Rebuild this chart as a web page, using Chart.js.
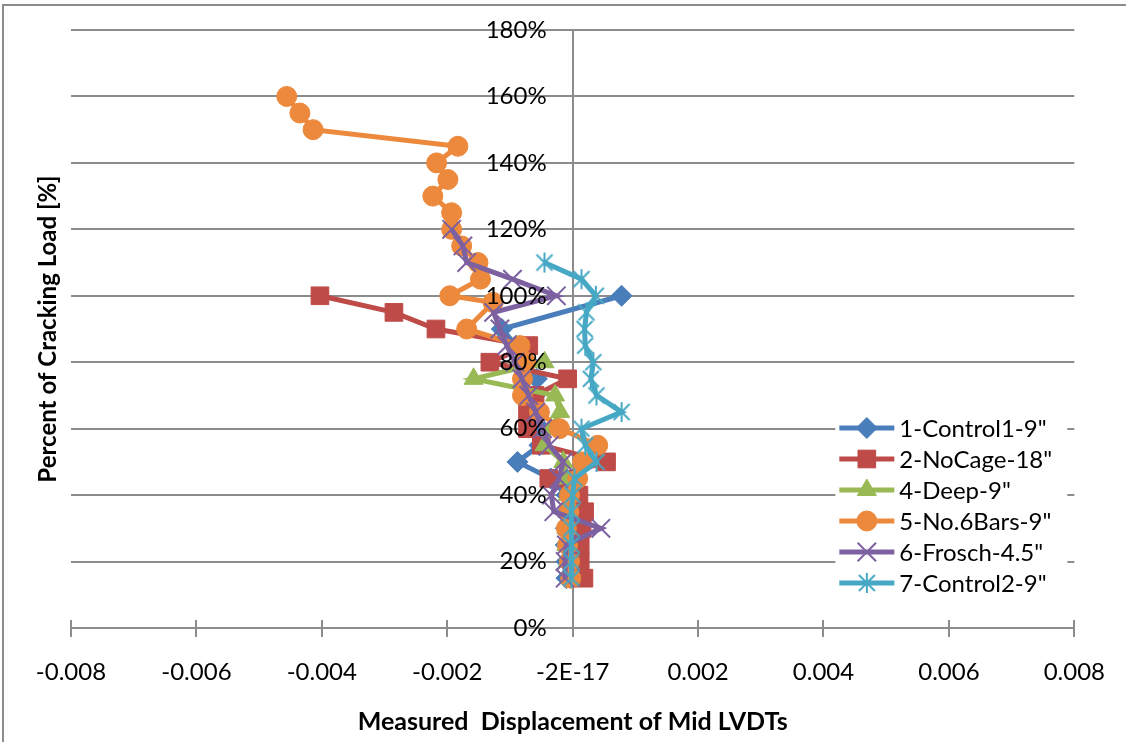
<!DOCTYPE html>
<html>
<head>
<meta charset="utf-8">
<title>Mid LVDT displacement vs. cracking load</title>
<script src="https://cdn.jsdelivr.net/npm/chart.js@4.4.1/dist/chart.umd.min.js"></script>
<style>
  html, body { margin: 0; padding: 0; background: #ffffff; }
  canvas { display: block; }
</style>
</head>
<body>
<canvas id="chart" width="1126" height="742"></canvas>
<script>
// ---- data -------------------------------------------------------------
const seriesNames = ['1-Control1-9"', '2-NoCage-18"', '4-Deep-9"', '5-No.6Bars-9"', '6-Frosch-4.5"', '7-Control2-9"'];

// load level [% of cracking load] and mid LVDT displacement for each specimen
const loadControl1 = [15, 20, 25, 30, 35, 40, 45, 50, 55, 60, 65, 70, 75, 80, 85, 90, 100];
const dispControl1 = [-0.0001, -0.0001, -0.00011, -0.00011, -0.0001, -0.0001, -0.00035, -0.00088, -0.00053, -0.0005, -0.00055, -0.0006, -0.00057, -0.0007, -0.0009, -0.00113, 0.00078];

const loadNoCage = [15, 20, 25, 30, 35, 40, 45, 50, 55, 60, 65, 70, 75, 80, 85, 90, 95, 100];
const dispNoCage = [0.00018, 0.00012, 0.00012, 0.00015, 0.00019, 0.0001, -0.00038, 0.00054, -0.0005, -0.00072, -0.00072, -0.0006, -0.00008, -0.00132, -0.0007, -0.00218, -0.00285, -0.00403];

const loadDeep = [15, 20, 25, 30, 35, 40, 45, 50, 55, 60, 65, 70, 75, 80];
const dispDeep = [-0.00004, -0.00008, -0.0001, -0.0001, -0.00008, -0.00008, -0.0001, -0.00015, -0.00045, -0.00035, -0.0002, -0.00028, -0.00158, -0.00045];

const loadNo6Bars = [15, 20, 25, 30, 35, 40, 45, 50, 55, 60, 65, 70, 75, 80, 85, 90, 98, 100, 105, 110, 115, 120, 125, 130, 135, 140, 145, 150, 155, 160];
const dispNo6Bars = [-0.00003, -0.00005, -0.00008, -0.0001, -0.00006, -0.00005, 0.00008, 0.00016, 0.0004, -0.00021, -0.00053, -0.0008, -0.0008, -0.00075, -0.00084, -0.00169, -0.00127, -0.00196, -0.00147, -0.00151, -0.00177, -0.00193, -0.00193, -0.00223, -0.00199, -0.00217, -0.00183, -0.00414, -0.00435, -0.00456];

const loadFrosch = [15, 20, 25, 30, 35, 40, 45, 50, 55, 60, 65, 70, 75, 80, 85, 90, 95, 100, 105, 110, 115, 120];
const dispFrosch = [-0.00012, -0.00012, -0.0001, 0.00045, -0.0003, -0.00034, -0.00022, -0.00015, -0.00037, -0.00048, -0.00059, -0.0007, -0.00081, -0.00092, -0.00105, -0.00116, -0.00126, -0.00026, -0.00096, -0.00169, -0.00175, -0.00193];

const loadControl2 = [15, 20, 25, 30, 35, 40, 45, 50, 55, 60, 65, 70, 75, 80, 85, 90, 95, 100, 105, 110];
const dispControl2 = [-0.00002, -0.00002, -0.00002, -0.00002, -0.00002, 0, 0.00003, 0.00038, 0.0002, 0.00014, 0.00078, 0.00038, 0.00029, 0.00033, 0.0002, 0.00019, 0.00022, 0.00037, 0.00014, -0.00045];

const xTickLabels = ['-0.008', '-0.006', '-0.004', '-0.002', '-2E-17', '0.002', '0.004', '0.006', '0.008'];
const xMin = -0.008, xMax = 0.008, xStep = 0.002;
const yMin = 0, yMax = 180, yStep = 20;

const xTitle = 'Measured  Displacement of Mid LVDTs';
const yTitle = 'Percent of Cracking Load [%]';

// ---- appearance --------------------------------------------------------
const FONT = 'Lato, "Open Sans", "DejaVu Sans", sans-serif';
const AXIS_GRAY = '#8c8c8c';
const seriesColors = ['#4A7EBB', '#BE4B48', '#98B954', '#EC893C', '#7D60A0', '#46A8C4'];

// asterisk marker: an X with a vertical stroke through it
function makeAsterisk(color, r, lw) {
  const s = Math.ceil(2 * r + lw + 2);
  const c = document.createElement('canvas');
  c.width = s; c.height = s;
  const g = c.getContext('2d');
  const m = s / 2, d = r * 0.8;
  g.strokeStyle = color;
  g.lineWidth = lw;
  g.beginPath();
  g.moveTo(m, m - r); g.lineTo(m, m + r);
  g.moveTo(m - d, m - d); g.lineTo(m + d, m + d);
  g.moveTo(m - d, m + d); g.lineTo(m + d, m - d);
  g.stroke();
  return c;
}

const markerStyles = ['rectRot', 'rect', 'triangle', 'circle', 'crossRot', makeAsterisk(seriesColors[5], 10, 2)];
const markerRadii = [10.5, 12.5, 11, 10, 13, 10];
const markerBorders = [1, 1, 1, 1, 2, 0];

const seriesData = [
  [dispControl1, loadControl1],
  [dispNoCage, loadNoCage],
  [dispDeep, loadDeep],
  [dispNo6Bars, loadNo6Bars],
  [dispFrosch, loadFrosch],
  [dispControl2, loadControl2]
];

const datasets = seriesData.map(([xs, ys], i) => ({
  label: seriesNames[i],
  data: xs.map((x, k) => ({ x: x, y: ys[k] })),
  borderColor: seriesColors[i],
  backgroundColor: seriesColors[i],
  borderWidth: 5,
  pointStyle: markerStyles[i],
  pointRadius: markerRadii[i],
  pointHoverRadius: markerRadii[i],
  pointBorderWidth: markerBorders[i],
  pointBackgroundColor: seriesColors[i],
  pointBorderColor: seriesColors[i],
  tension: 0,
  fill: false,
  order: seriesNames.length - 1 - i   // later specimens drawn on top
}));

// ---- decorations: frame, crossing tick marks, y title, legend -----------
const decorations = {
  id: 'decorations',
  beforeDraw(chart) {
    const ctx = chart.ctx;
    ctx.save();
    ctx.fillStyle = '#ffffff';
    ctx.fillRect(0, 0, chart.width, chart.height);
    ctx.strokeStyle = AXIS_GRAY;
    ctx.lineWidth = 2;
    ctx.beginPath();
    ctx.moveTo(3, chart.height);
    ctx.lineTo(3, 5);
    ctx.lineTo(chart.width, 5);
    ctx.stroke();
    ctx.restore();
  },
  beforeDatasetsDraw(chart) {
    // upper half of the crossing tick marks on the horizontal axis
    const ctx = chart.ctx, xs = chart.scales.x, base = chart.chartArea.bottom;
    ctx.save();
    ctx.strokeStyle = AXIS_GRAY;
    ctx.lineWidth = 2;
    ctx.beginPath();
    xs.ticks.forEach(t => {
      const px = Math.round(xs.getPixelForValue(t.value));
      ctx.moveTo(px, base - 8);
      ctx.lineTo(px, base);
    });
    ctx.stroke();
    ctx.restore();
  },
  afterDraw(chart) {
    const ctx = chart.ctx, area = chart.chartArea;
    ctx.save();
    // vertical axis title
    ctx.fillStyle = '#000000';
    ctx.font = 'bold 24px ' + FONT;
    ctx.textAlign = 'center';
    ctx.textBaseline = 'middle';
    ctx.translate(48, (area.top + area.bottom) / 2);
    ctx.rotate(-Math.PI / 2);
    ctx.fillText(yTitle, 0, 0);
    ctx.restore();

    // legend inside the plot, lower right
    const lx = area.right - 235, ly = area.bottom - 200, step = 31;
    ctx.save();
    ctx.fillStyle = '#ffffff';
    ctx.fillRect(lx - 4, ly - 17, 232, step * seriesNames.length + 2);
    seriesNames.forEach((name, i) => {
      const y = ly + i * step;
      ctx.strokeStyle = seriesColors[i];
      ctx.fillStyle = seriesColors[i];
      ctx.lineWidth = 5;
      ctx.beginPath();
      ctx.moveTo(lx, y);
      ctx.lineTo(lx + 55, y);
      ctx.stroke();
      ctx.lineWidth = markerBorders[i];
      if (Chart.helpers && Chart.helpers.drawPoint) {
        Chart.helpers.drawPoint(ctx, {
          pointStyle: markerStyles[i], radius: markerRadii[i],
          borderWidth: markerBorders[i], rotation: 0
        }, lx + 27.5, y);
      }
      ctx.fillStyle = '#000000';
      ctx.font = '24px ' + FONT;
      ctx.textAlign = 'left';
      ctx.textBaseline = 'middle';
      ctx.fillText(name, lx + 60, y + 1);
    });
    ctx.restore();
  }
};

// ---- chart --------------------------------------------------------------
new Chart(document.getElementById('chart'), {
  type: 'line',
  data: { datasets: datasets },
  plugins: [decorations],
  options: {
    responsive: false,
    animation: false,
    devicePixelRatio: 1,
    layout: { padding: { left: 71, right: 51, top: 30, bottom: 0 } },
    plugins: {
      legend: { display: false },
      tooltip: { enabled: false },
      title: { display: false }
    },
    scales: {
      x: {
        type: 'linear',
        position: 'bottom',
        min: xMin,
        max: xMax,
        ticks: {
          stepSize: xStep,
          autoSkip: false,
          maxRotation: 0,
          padding: 21,
          color: '#000000',
          font: { family: FONT, size: 24 },
          callback: (v, i) => xTickLabels[i]
        },
        grid: { drawOnChartArea: false, drawTicks: true, tickLength: 9, color: AXIS_GRAY, lineWidth: 2 },
        border: { display: true, color: AXIS_GRAY, width: 2 },
        title: {
          display: true,
          text: xTitle,
          color: '#000000',
          font: { family: FONT, size: 25, weight: 'bold' },
          padding: { top: 0, bottom: 5 }
        },
        afterFit: s => { s.height = 114; }
      },
      y: {
        type: 'linear',
        position: 'center',
        min: yMin,
        max: yMax,
        ticks: {
          stepSize: yStep,
          padding: 26,
          color: '#000000',
          font: { family: FONT, size: 24 },
          callback: v => v + '%',
          z: 1
        },
        grid: { color: AXIS_GRAY, lineWidth: 2, drawTicks: false },
        border: { display: true, color: AXIS_GRAY, width: 2 },
        // labels sit inside the plot, so they need no extra room above or below it
        afterFit: s => { s.paddingTop = 0; s.paddingBottom = 0; }
      }
    }
  }
});
</script>
</body>
</html>
